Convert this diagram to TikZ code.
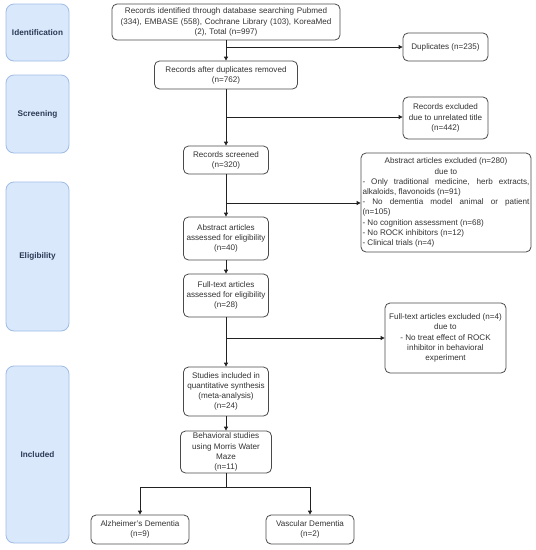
\documentclass[tikz,border=0pt]{standalone}
\usepackage{fontspec}
\setmainfont{Liberation Sans}
\usetikzlibrary{arrows.meta}
\definecolor{sidefill}{HTML}{DAE8FC}
\definecolor{sidedraw}{HTML}{9FBCE6}
\definecolor{sidetext}{HTML}{2B3A55}
\definecolor{boxdraw}{HTML}{4A4A4A}
\definecolor{txt}{HTML}{333333}
\definecolor{linec}{HTML}{222222}
\begin{document}
\begin{tikzpicture}[x=1pt,y=-1pt,
  font=\fontsize{8.1}{10.2}\selectfont,
  side/.style={draw=sidedraw,fill=sidefill,rounded corners=8pt,line width=0.8pt,text=sidetext,
    font=\fontsize{8.2}{10}\selectfont\bfseries,minimum width=63pt,inner sep=0pt},
  box/.style={draw=boxdraw,rounded corners=5pt,line width=0.8pt,text=txt,align=center,inner sep=1pt},
  arr/.style={-{Triangle[length=4pt,width=4pt]},draw=linec,line width=0.8pt},
  ln/.style={draw=linec,line width=0.8pt}]
\useasboundingbox[fill=white] (0,0) rectangle (536,550);

% side labels
\node[side,minimum height=57pt] (sid) at (37.5,32.5) {Identification};
\node[side,minimum height=78pt] (sscr) at (37.5,114) {Screening};
\node[side,minimum height=149pt] (selig) at (37.5,256.5) {Eligibility};
\node[side,minimum height=177pt] (sincl) at (37.5,454.5) {Included};

% main boxes
\node[box,minimum width=228pt,minimum height=36pt,text width=226pt] (rec) at (226,22)
  {Records identified through database searching Pubmed\\(334), EMBASE (558), Cochrane Library (103), KoreaMed\\(2), Total (n=997)};
\node[box,minimum width=85pt,minimum height=28pt] (dup) at (445.5,47) {Duplicates (n=235)};
\node[box,minimum width=143pt,minimum height=28pt] (after) at (226,75) {Records after duplicates removed\\(n=762)};
\node[box,minimum width=85pt,minimum height=42pt] (excl) at (445.5,118) {Records excluded\\due to unrelated title\\(n=442)};
\node[box,minimum width=85pt,minimum height=28pt] (scr) at (226,160) {Records screened\\(n=320)};
\node[box,minimum width=170pt,minimum height=99pt,align=left] (absx) at (446,202.5)
  {\makebox[167pt][c]{Abstract articles excluded (n=280)}\\
   \makebox[167pt][c]{due to}\\
   \makebox[167pt][s]{- Only traditional medicine, herb extracts,}\\
   alkaloids, flavonoids (n=91)\\
   \makebox[167pt][s]{- No dementia model animal or patient}\\
   (n=105)\\
   - No cognition assessment (n=68)\\
   - No ROCK inhibitors (n=12)\\
   - Clinical trials (n=4)};
\node[box,minimum width=85pt,minimum height=43pt] (absa) at (226,238.5) {Abstract articles\\assessed for eligibility\\(n=40)};
\node[box,minimum width=85pt,minimum height=43pt] (fulla) at (226,295.5) {Full-text articles\\assessed for eligibility\\(n=28)};
\node[box,minimum width=121pt,minimum height=70pt] (fullx) at (445.5,338) {Full-text articles excluded (n=4)\\due to\\- No treat effect of ROCK\\inhibitor in behavioral\\experiment};
\node[box,minimum width=85pt,minimum height=49pt] (stud) at (226,391.5) {Studies included in\\quantitative synthesis\\(meta-analysis)\\(n=24)};
\node[box,minimum width=91pt,minimum height=42pt] (beh) at (226,452) {Behavioral studies\\using Morris Water\\Maze\\(n=11)};
\node[box,minimum width=98pt,minimum height=29pt] (alz) at (140,529.5) {Alzheimer's Dementia\\(n=9)};
\node[box,minimum width=88pt,minimum height=29pt] (vasc) at (310,529.5) {Vascular Dementia\\(n=2)};

% connectors
\coordinate (b1) at (226,47);
\coordinate (b2) at (226,117);
\coordinate (b3) at (226,203);
\coordinate (b4) at (226,338);
\coordinate (b5) at (226,487);
\draw[arr] (rec) -- (after);
\draw[arr] (b1) -- (b1 -| dup.west);
\draw[arr] (after) -- (scr);
\draw[arr] (b2) -- (b2 -| excl.west);
\draw[arr] (scr) -- (absa);
\draw[arr] (b3) -- (b3 -| absx.west);
\draw[arr] (absa) -- (fulla);
\draw[arr] (fulla) -- (stud);
\draw[arr] (b4) -- (b4 -| fullx.west);
\draw[arr] (stud) -- (beh);
\draw[ln] (beh) -- (b5);
\draw[arr] (b5) -| (alz.north);
\draw[arr] (b5) -| (vasc.north);
\end{tikzpicture}
\end{document}
